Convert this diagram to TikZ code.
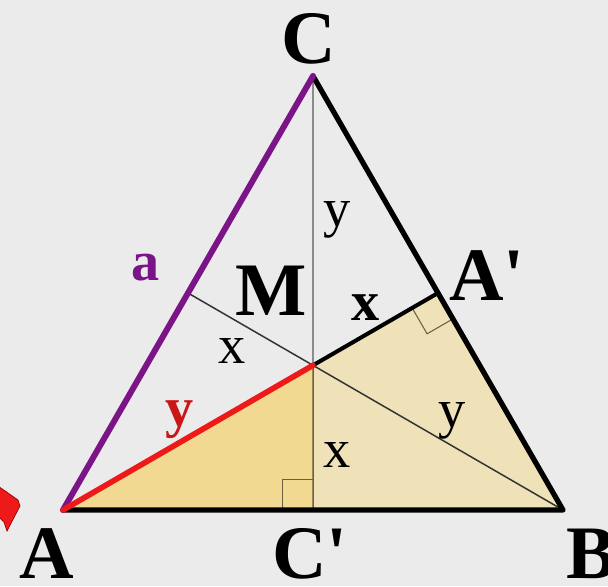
\documentclass[tikz,border=0pt]{standalone}
\usepackage{fontspec}
\setmainfont{Liberation Serif}[Ligatures=TeXOff]
\usetikzlibrary{calc}
\definecolor{bggray}{HTML}{EBEBEB}
\definecolor{sidePurple}{HTML}{7A1487}
\definecolor{redSeg}{HTML}{EE1A1A}
\definecolor{tanDark}{HTML}{F2D992}
\definecolor{tanLight}{HTML}{EFE2B8}
\definecolor{guide}{HTML}{8C8C8C}
\definecolor{olive}{HTML}{6B5F3F}
\tikzset{
  vertexLabel/.style = {anchor=base, inner sep=0pt,
    font=\fontsize{43}{43}\selectfont\bfseries},
  segLabel/.style = {anchor=base, inner sep=0pt,
    font=\fontsize{31}{31}\selectfont},
  segBold/.style = {anchor=base, inner sep=0pt,
    font=\fontsize{32}{32}\selectfont\bfseries},
  side/.style = {line width=3pt, line cap=round, line join=round},
  thinLine/.style = {line width=0.85pt},
  rightMark/.style = {line width=0.6pt, draw=olive},
}

\begin{document}
\begin{tikzpicture}[x=0.02cm, y=-0.02cm]

\useasboundingbox (0,0) rectangle (608,586);
\fill[bggray] (0,0) rectangle (608,586);

% vertices
\coordinate (A) at (63,510);
\coordinate (B) at (563,510);
\coordinate (C) at (313,76);
\coordinate (M) at (313,365.3);
\coordinate (Ap) at ($(B)!0.5!(C)$);
\coordinate (Cp) at ($(A)!0.5!(B)$);
\coordinate (Bp) at ($(A)!0.5!(C)$);

% filled parts
\fill[tanDark] (A) -- (M) -- (Cp) -- cycle;
\fill[tanLight] (M) -- (Ap) -- (B) -- (Cp) -- cycle;

% right angles
\draw[rightMark] ($(Cp)!17.6pt!(A)$) -- ($($(Cp)!17.6pt!(A)$)!1!90:(Cp)$) -- ($(Cp)!17.6pt!(M)$);
\draw[rightMark] ($(Ap)!17pt!(M)$) -- ($($(Ap)!17pt!(M)$)!1!-90:(Ap)$) -- ($(Ap)!17pt!(B)$);

% thin lines
\draw[thinLine, guide] (C) -- (M);
\draw[thinLine, olive] (M) -- (Cp);
\draw[thinLine, black!80] (Bp) -- (B);

% sides
\draw[side, black] (A) -- (B) -- (C);
\draw[side, sidePurple, line width=3.4pt] (A) -- (C);
\draw[side, black, line width=2.3pt] (M) -- (Ap);
\draw[side, redSeg, line width=3.2pt] (A) -- (M);

% red pointer at the left edge
\fill[redSeg, draw=red!60!black, line width=0.4pt]
  (-2,486) -- (18,500) -- (20,506) -- (7,531) -- (4,522) -- (-2,516) -- cycle;

% labels
\node[vertexLabel] (lC) at (309,63) {C};
\node[vertexLabel] (lA) at (47,578) {A};
\node[vertexLabel, anchor=base west] (lB) at (566,578) {B};
\node[vertexLabel] (lCp) at (310,578) {C'};
\node[vertexLabel] (lAp) at (487,300) {A'};
\node[vertexLabel] (lM) at (271,315) {M};
\node[segBold, text=sidePurple] (la) at (146,280) {a};
\node[segBold, text=redSeg!85!black] (ly1) at (180,426) {y};
\node[segBold] (lx1) at (366,320) {x};
\node[segLabel] (lx2) at (232,363) {x};
\node[segLabel] (lx3) at (337,467) {x};
\node[segLabel] (ly2) at (337,226) {y};
\node[segLabel] (ly3) at (452,427) {y};

\end{tikzpicture}
\end{document}
